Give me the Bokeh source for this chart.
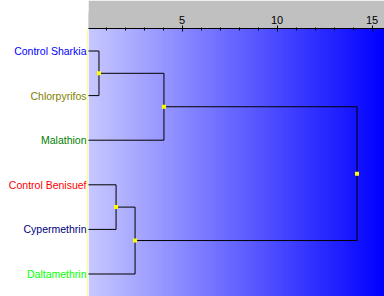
import numpy as np
from bokeh.plotting import figure
from bokeh.layouts import row
from bokeh.models import Range1d, FixedTicker, Span
from bokeh.core.properties import value
from bokeh.embed import file_html
from bokeh.resources import INLINE

# ---- data ----
leaves = ["Control Sharkia", "Chlorpyrifos", "Malathion",
          "Control Benisuef", "Cypermethrin", "Daltamethrin"]
leaf_colors = ["#0000ff", "#808000", "#008000", "#ff0000", "#000080", "#00ff00"]
# merges: node ids 0-5 are leaves, merge k creates node 6+k
merge_left = [0, 6, 3, 8, 7]
merge_right = [1, 2, 4, 5, 9]
merge_height = [0.63, 4.05, 1.53, 2.53, 14.21]
major_ticks = [5, 10, 15]
minor_ticks = list(range(1, 16))

# ---- layout constants ----
W, H = 384, 296
LEFT_W = 88
ZERO_PX = 86.5      # pixel of distance 0
PX_PER_UNIT = 19.0
TOP_BAND = 28
LEAF0_PX = 50.5
LEAF_STEP = 44.6

def px2x(px):
    return (px - ZERO_PX) / PX_PER_UNIT

def px2y(py):
    return (py - LEAF0_PX) / LEAF_STEP

y_lo, y_hi = px2y(H), px2y(TOP_BAND)

# ---- dendrogram geometry ----
node_x = [0.0] * len(leaves)
node_y = [float(i) for i in range(len(leaves))]
sx0, sy0, sx1, sy1 = [], [], [], []
for a, b, h in zip(merge_left, merge_right, merge_height):
    xa, ya, xb, yb = node_x[a], node_y[a], node_x[b], node_y[b]
    sx0 += [xa, h, xb]; sy0 += [ya, ya, yb]
    sx1 += [h, h, h];   sy1 += [ya, yb, yb]
    node_x.append(h)
    node_y.append((ya + yb) / 2)

# ---- left panel: leaf labels ----
pl = figure(width=LEFT_W, height=H, x_range=Range1d(0, LEFT_W),
            y_range=Range1d(y_lo, y_hi),
            x_axis_location=None, y_axis_location=None,
            toolbar_location=None, output_backend="svg",
            min_border_left=0, min_border_right=0, min_border_bottom=0,
            min_border_top=TOP_BAND, background_fill_color="white",
            border_fill_color="white", outline_line_color=None)
pl.xgrid.visible = False
pl.ygrid.visible = False
pl.text(x=[LEFT_W - 2] * len(leaves), y=node_y[:len(leaves)], text=leaves,
        text_color=leaf_colors, text_align="right", text_baseline="middle",
        text_font=value("Liberation Sans"), text_font_size="10.5px")
pl.add_layout(Span(location=LEFT_W - 0.5, dimension="height",
                   line_color="#ffff00", line_width=1))

# ---- right panel: dendrogram ----
RW = W - LEFT_W
p = figure(width=RW, height=H, x_range=Range1d(px2x(LEFT_W), px2x(W)),
           y_range=Range1d(y_lo, y_hi),
           x_axis_location="above", y_axis_location=None,
           toolbar_location=None, output_backend="svg",
           min_border_left=0, min_border_right=0, min_border_top=TOP_BAND,
           min_border_bottom=0, background_fill_color="white",
           border_fill_color="#c0c0c0", outline_line_color=None)
p.xgrid.visible = False
p.ygrid.visible = False

# gradient background
n = 148
edges = np.linspace(LEFT_W, W, n + 1)
t = (edges[:-1] + (edges[1] - edges[0]) / 2 - LEFT_W) / (W - LEFT_W)
cols = ["#%02x%02xff" % (int(round(200 * (1 - v))), int(round(200 * (1 - v)))) for v in t]
p.quad(left=px2x(edges[:-1]), right=px2x(np.minimum(edges[:-1] + 3, W + 1)),
       top=y_hi - 1, bottom=y_lo + 1, fill_color=cols, line_color=None)

ax = p.xaxis[0]
if "background_fill_color" in ax.properties():
    ax.background_fill_color = "#c0c0c0"
ax.ticker = FixedTicker(ticks=major_ticks, minor_ticks=minor_ticks)
ax.major_tick_in = 3
ax.major_tick_out = 3
ax.minor_tick_in = 2
ax.minor_tick_out = 1
ax.major_label_standoff = 2
ax.major_label_text_font = "Liberation Sans"
ax.major_label_text_font_size = "11px"
ax.major_label_text_color = "black"
ax.axis_line_color = "black"
ax.major_tick_line_color = "black"
ax.minor_tick_line_color = "black"

# dendrogram
p.segment(x0=sx0, y0=sy0, x1=sx1, y1=sy1, line_color="black", line_width=1)
p.scatter(x=node_x[len(leaves):], y=node_y[len(leaves):], marker="square", size=4,
          fill_color="#ffff00", line_color=None)

layout = row(pl, p, spacing=0)
open("out.html", "w").write(file_html(layout, INLINE))
